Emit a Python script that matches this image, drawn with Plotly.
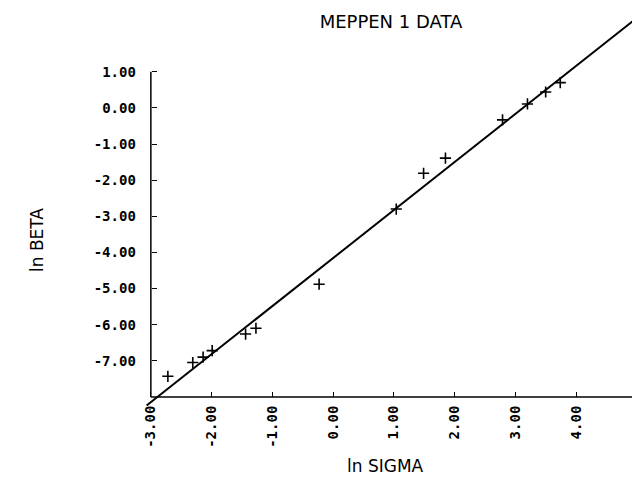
import plotly.graph_objects as go

# data
ln_sigma = [-2.72, -2.31, -2.14, -1.99, -1.44, -1.27, -0.23, 1.04, 1.49, 1.85, 2.79, 3.20, 3.50, 3.74]
ln_beta = [-7.43, -7.05, -6.90, -6.72, -6.26, -6.10, -4.88, -2.80, -1.81, -1.39, -0.33, 0.11, 0.44, 0.70]
fit_x = [-3.07, 5.0]
fit_y = [-8.24, 2.49]

x_tickvals = [-3, -2, -1, 0, 1, 2, 3, 4, 5]
x_ticktext = ["-3.00", "-2.00", "-1.00", "0.00", "1.00", "2.00", "3.00", "4.00", "5.00"]
y_tickvals = [1, 0, -1, -2, -3, -4, -5, -6, -7]
y_ticktext = ["1.00", "0.00", "-1.00", "-2.00", "-3.00", "-4.00", "-5.00", "-6.00", "-7.00"]

XR = [-3.08, 5.02]
YR = [-8.28, 2.6]
X0, X1 = -3, 5
Y0, Y1 = -8, 1

fig = go.Figure()
fig.add_trace(go.Scatter(x=fit_x, y=fit_y, mode="lines",
                         line=dict(color="black", width=2), showlegend=False))
fig.add_trace(go.Scatter(x=ln_sigma, y=ln_beta, mode="markers",
                         marker=dict(symbol="cross-thin", size=8,
                                     line=dict(color="black", width=1.6)),
                         showlegend=False))

# axis lines
fig.add_shape(type="line", x0=X0, x1=X1, y0=Y0, y1=Y0, xref="x", yref="y",
              line=dict(color="black", width=1.5))
fig.add_shape(type="line", x0=X0, x1=X0, y0=Y0, y1=Y1, xref="x", yref="y",
              line=dict(color="black", width=1.5))

tickfont = dict(family="DejaVu Sans Mono", size=14, color="black", weight="bold")

fig.update_layout(
    width=632, height=487,
    margin=dict(l=138, r=2, t=6, b=88),
    paper_bgcolor="white", plot_bgcolor="white",
    xaxis=dict(range=XR, showgrid=False, zeroline=False, showline=False,
               tickvals=x_tickvals, ticktext=x_ticktext, tickangle=-90,
               ticks="inside", ticklen=5, tickwidth=1.3, tickcolor="black",
               tickfont=tickfont, anchor="free", ticklabelstandoff=5,
               position=(Y0 - YR[0]) / (YR[1] - YR[0])),
    yaxis=dict(range=YR, showgrid=False, zeroline=False, showline=False,
               tickvals=y_tickvals, ticktext=y_ticktext,
               ticks="inside", ticklen=5, tickwidth=1.3, tickcolor="black",
               tickfont=tickfont, anchor="free", ticklabelstandoff=15,
               position=(X0 - XR[0]) / (XR[1] - XR[0])),
    title=dict(text="MEPPEN 1 DATA", x=0.606, y=1 - 14 / 487, xref="container",
               yref="container", xanchor="center", yanchor="middle",
               font=dict(family="DejaVu Sans", size=18, color="black")),
    annotations=[
        dict(text="ln SIGMA", x=0.486, y=-0.150, xref="paper", yref="paper",
             showarrow=False, xanchor="center", yanchor="middle",
             font=dict(family="DejaVu Sans", size=17, color="black")),
        dict(text="ln BETA", x=-0.2215, y=0.425, xref="paper", yref="paper",
             showarrow=False, xanchor="center", yanchor="middle", textangle=-90,
             font=dict(family="DejaVu Sans", size=17, color="black")),
    ],
)

fig.write_html("out.html")
